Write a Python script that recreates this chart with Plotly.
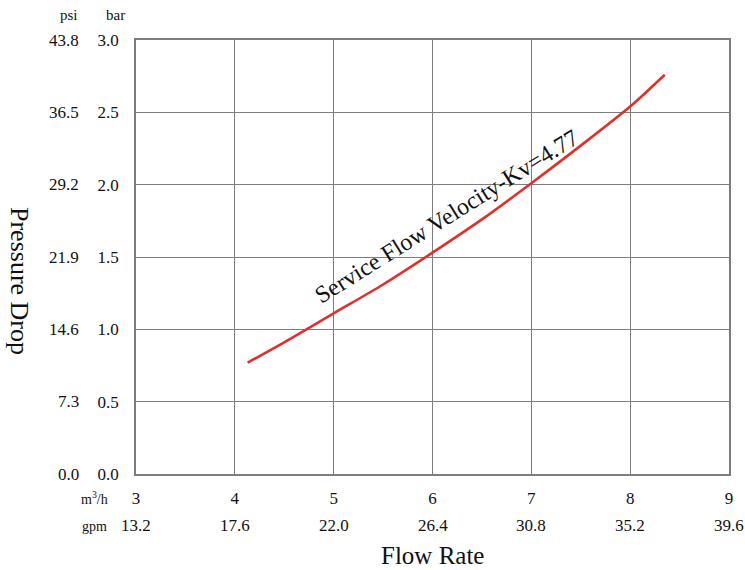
import plotly.graph_objects as go

# curve (m3/h vs bar)
flow_m3h = [4.13, 4.5, 5.0, 5.5, 6.0, 6.5, 7.0, 7.5, 8.0, 8.35]
drop_bar = [0.77, 0.91, 1.11, 1.31, 1.53, 1.76, 2.01, 2.27, 2.54, 2.76]

x_ticks = [3, 4, 5, 6, 7, 8, 9]
gpm_labels = ["13.2", "17.6", "22.0", "26.4", "30.8", "35.2", "39.6"]
bar_ticks = [0.0, 0.5, 1.0, 1.5, 2.0, 2.5, 3.0]
psi_labels = ["0.0", "7.3", "14.6", "21.9", "29.2", "36.5", "43.8"]

curve_label = "Service Flow Velocity-Kv=4.77"

serif = "Liberation Serif, Times New Roman, serif"
grid_col = "#7d7d7d"

fig = go.Figure()

fig.add_trace(go.Scatter(
    x=flow_m3h, y=drop_bar,
    mode="lines",
    line=dict(color="#e0302c", width=2.6, shape="spline", smoothing=0.8),
    hoverinfo="skip",
    showlegend=False,
))

fig.update_layout(
    width=745, height=570,
    margin=dict(l=136, r=16, t=40, b=96),
    plot_bgcolor="white",
    paper_bgcolor="white",
    font=dict(family=serif, size=17, color="#111"),
    showlegend=False,
)

fig.update_xaxes(
    range=[3, 9], tickvals=x_ticks, ticktext=[str(v) for v in x_ticks],
    showgrid=True, gridcolor=grid_col, gridwidth=1,
    showline=True, linecolor=grid_col, linewidth=1.5, mirror=True,
    ticks="", ticklabelstandoff=8, zeroline=False,
    tickfont=dict(size=17),
)
fig.update_yaxes(
    range=[0, 3], tickvals=bar_ticks, tickformat=".1f",
    showgrid=True, gridcolor=grid_col, gridwidth=1,
    showline=True, linecolor=grid_col, linewidth=1.5, mirror=True,
    ticks="", ticklabelstandoff=12, zeroline=False,
    tickfont=dict(size=17),
)

# psi column
for v, lab in zip(bar_ticks, psi_labels):
    fig.add_annotation(x=0, y=v, xref="paper", yref="y", text=lab,
                       xanchor="right", yanchor="middle", xshift=-55,
                       showarrow=False, font=dict(size=17))

# gpm row
for v, lab in zip(x_ticks, gpm_labels):
    fig.add_annotation(x=v, y=0, xref="x", yref="paper", text=lab,
                       xanchor="center", yanchor="middle", yshift=-51,
                       showarrow=False, font=dict(size=17))

# unit headers
fig.add_annotation(x=0, y=1, xref="paper", yref="paper", text="psi",
                   xanchor="center", yanchor="middle", xshift=-67, yshift=25,
                   showarrow=False, font=dict(size=15))
fig.add_annotation(x=0, y=1, xref="paper", yref="paper", text="bar",
                   xanchor="center", yanchor="middle", xshift=-21, yshift=25,
                   showarrow=False, font=dict(size=15))
fig.add_annotation(x=0, y=0, xref="paper", yref="paper", text="m<sup>3</sup>/h",
                   xanchor="center", yanchor="middle", xshift=-42, yshift=-24,
                   showarrow=False, font=dict(size=14))
fig.add_annotation(x=0, y=0, xref="paper", yref="paper", text="gpm",
                   xanchor="center", yanchor="middle", xshift=-42, yshift=-52,
                   showarrow=False, font=dict(size=14))

# axis titles
fig.add_annotation(x=0, y=0.5, xref="paper", yref="paper", text="Pressure Drop",
                   textangle=90, xanchor="center", yanchor="middle",
                   xshift=-116, yshift=-24,
                   showarrow=False, font=dict(size=26))
fig.add_annotation(x=0.5, y=0, xref="paper", yref="paper", text="Flow Rate",
                   xanchor="center", yanchor="middle", yshift=-81,
                   showarrow=False, font=dict(size=25))

# curve label
fig.add_annotation(x=6.15, y=1.78, xref="x", yref="y", text=curve_label,
                   textangle=-32, showarrow=False, font=dict(size=24))

# drop the default page margin so the figure fills the window
fig.write_html("out.html", config={"displayModeBar": False},
               post_script="document.body.style.margin='0px';")
